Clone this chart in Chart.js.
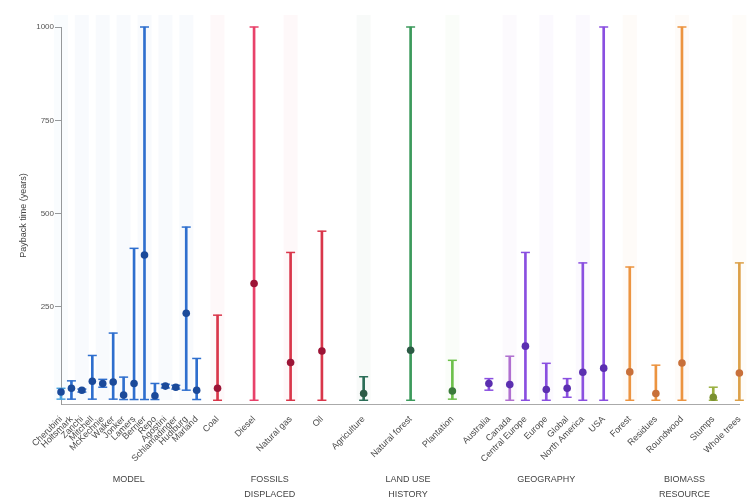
<!DOCTYPE html>
<html>
<head>
<meta charset="utf-8">
<script src="https://cdn.jsdelivr.net/npm/chart.js@4.4.1/dist/chart.umd.min.js"></script>
<style>
  html, body { margin: 0; padding: 0; background: #fff; }
  #wrap { width: 749px; height: 501px; }
</style>
</head>
<body>
<div id="wrap"><canvas id="myChart"></canvas></div>
<script>
// payback time (years): median point + low/high whiskers
var categories = [
  "Cherubini", "Holtsmark", "Zanchi", "Mitchell", "McKechnie", "Walker", "Jonker",
  "Lamers", "Bernier", "Repo", "Agostini", "Schlamadinger", "Hudiburg", "Marland",
  "Coal", "Diesel", "Natural gas", "Oil",
  "Agriculture", "Natural forest", "Plantation",
  "Australia", "Canada", "Central Europe", "Europe", "Global", "North America", "USA",
  "Forest", "Residues", "Roundwood", "Stumps", "Whole trees"
];
var groupOf = [0,0,0,0,0,0,0,0,0,0,0,0,0,0, 1,1,1,1, 2,2,2, 3,3,3,3,3,3,3, 4,4,4,4,4];
var groupNames = [["MODEL"], ["FOSSILS", "DISPLACED"], ["LAND USE", "HISTORY"], ["GEOGRAPHY"], ["BIOMASS", "RESOURCE"]];
var midValues = [22, 32, 27, 51, 45, 49, 14, 45, 389, 12, 38, 35, 233, 27,
  32, 313, 101, 132,
  18, 134, 25,
  45, 42, 145, 29, 32, 75, 86,
  76, 18, 100, 8, 73];
var lowValues = [3, 3, 22, 3, 35, 3, 2, 2, 2, 2, 33, 30, 27, 2,
  0, 0, 0, 0,
  0, 0, 3,
  27, 0, 0, 0, 8, 0, 0,
  0, 0, 0, 0, 0];
var highValues = [32, 52, 30, 120, 56, 180, 62, 407, 1000, 45, 43, 40, 464, 112,
  228, 1000, 396, 453,
  63, 1000, 107,
  58, 118, 396, 99, 58, 368, 1000,
  357, 94, 1000, 35, 368];
var yTicks = [250, 500, 750, 1000];

// layout: slot of each category on the x axis (groups are spaced unevenly)
var slotOf = [0,2,4,6,8,10,12,14,16,18,20,22,24,26, 30,37,44,50, 58,67,75, 82,86,89,93,97,100,104, 109,114,119,125,130];

// styles
var groupLine = ["#2f6fce", "#d9364a", "#3c9a5c", "#8a4fe0", "#ec9440"];
var groupPoint = ["#1b4a9a", "#9c1436", "#2c5a45", "#5b2fb0", "#c8703a"];
var lineOverride = { 0: "#4aa3df", 15: "#e8426a", 18: "#2c6e58", 20: "#6cc04a", 22: "#b070d0", 31: "#9ab040", 32: "#dca048" };
var pointOverride = { 20: "#3a7a3a", 31: "#7a9030" };

var nSlots = slotOf[slotOf.length - 1] + 1;
var labels = [], ranges = [], mids = [], highs = [], lows = [], lineCol = [], pointCol = [];
for (var s = 0; s < nSlots; s++) {
  labels.push(""); ranges.push(null); mids.push(null); highs.push(null); lows.push(null);
  lineCol.push("#888"); pointCol.push("#444");
}
categories.forEach(function (c, i) {
  var s = slotOf[i];
  labels[s] = c;
  ranges[s] = [lowValues[i], highValues[i]];
  mids[s] = midValues[i];
  highs[s] = highValues[i];
  lows[s] = lowValues[i];
  lineCol[s] = lineOverride[i] || groupLine[groupOf[i]];
  pointCol[s] = pointOverride[i] || groupPoint[groupOf[i]];
});

function fade(hex, a) {
  var n = parseInt(hex.slice(1), 16);
  return "rgba(" + (n >> 16) + "," + ((n >> 8) & 255) + "," + (n & 255) + "," + a + ")";
}

// faint colour column behind some categories
var bandsPlugin = {
  id: "bands",
  beforeDatasetsDraw: function (chart) {
    var ctx = chart.ctx, x = chart.scales.x, area = chart.chartArea;
    ctx.save();
    categories.forEach(function (c, i) {
      if (i % 2 === 1) return;
      var px = x.getPixelForValue(slotOf[i]);
      ctx.fillStyle = fade(lineCol[slotOf[i]], 0.035);
      ctx.fillRect(px - 7, area.top - 12, 14, area.bottom - area.top + 8);
    });
    ctx.restore();
  }
};

// group names under the rotated labels
var groupsPlugin = {
  id: "groups",
  afterDraw: function (chart) {
    var ctx = chart.ctx, x = chart.scales.x, area = chart.chartArea;
    ctx.save();
    ctx.fillStyle = "#444";
    ctx.font = "9px 'Liberation Sans', Arial, sans-serif";
    ctx.textAlign = "center";
    ctx.textBaseline = "middle";
    groupNames.forEach(function (lines, g) {
      var xs = [];
      groupOf.forEach(function (gi, i) { if (gi === g) xs.push(x.getPixelForValue(slotOf[i])); });
      var cx = (Math.min.apply(null, xs) + Math.max.apply(null, xs)) / 2;
      lines.forEach(function (t, k) {
        ctx.fillText(t, cx, area.bottom + 76 + k * 15);
      });
    });
    ctx.restore();
  }
};

new Chart("myChart", {
  type: "bar",
  data: {
    labels: labels,
    datasets: [
      {
        type: "line",
        data: mids,
        showLine: false,
        pointStyle: "circle",
        pointRadius: 3.8,
        pointBackgroundColor: pointCol,
        pointBorderWidth: 0,
        clip: false,
        order: 1
      },
      {
        type: "line",
        data: highs,
        showLine: false,
        pointStyle: "line",
        pointRadius: 4.5,
        pointBorderColor: lineCol,
        pointBorderWidth: 1.5,
        clip: false,
        order: 2
      },
      {
        type: "line",
        data: lows,
        showLine: false,
        pointStyle: "line",
        pointRadius: 4.5,
        pointBorderColor: lineCol,
        pointBorderWidth: 1.5,
        clip: false,
        order: 2
      },
      {
        type: "bar",
        data: ranges,
        backgroundColor: lineCol,
        barThickness: 2,
        grouped: false,
        clip: false,
        order: 3
      }
    ]
  },
  options: {
    responsive: true,
    maintainAspectRatio: false,
    animation: false,
    layout: { padding: { top: 27, right: 6, left: 0, bottom: 0 } },
    plugins: {
      legend: { display: false },
      tooltip: { enabled: false }
    },
    scales: {
      x: {
        offset: false,
        grid: { display: false },
        border: { color: "#aaa", width: 1 },
        ticks: {
          autoSkip: false,
          maxRotation: 45,
          minRotation: 45,
          padding: 2,
          color: "#4a4a4a",
          font: { size: 9, family: "'Liberation Sans', Arial, sans-serif" }
        },
        afterFit: function (scale) { scale.height = 97; }
      },
      y: {
        min: -10,
        max: 1000,
        afterBuildTicks: function (scale) {
          scale.ticks = yTicks.map(function (v) { return { value: v }; });
        },
        grid: { drawOnChartArea: false, tickLength: 6, color: "#999" },
        border: { color: "#999", width: 1 },
        ticks: {
          padding: 1,
          color: "#555",
          font: { size: 8, family: "'Liberation Sans', Arial, sans-serif" },
          callback: function (v) { return String(v); }
        },
        title: {
          display: true,
          text: "Payback time (years)",
          color: "#444",
          padding: { top: 18, bottom: 0 },
          font: { size: 9, family: "'Liberation Sans', Arial, sans-serif" }
        },
        afterFit: function (scale) { scale.width = 61; }
      }
    }
  },
  plugins: [bandsPlugin, groupsPlugin]
});
</script>
</body>
</html>
